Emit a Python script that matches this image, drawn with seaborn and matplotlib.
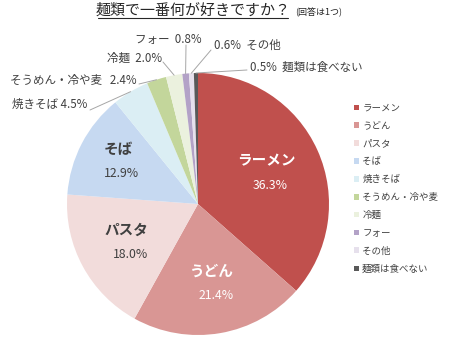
import numpy as np
import matplotlib
matplotlib.use("Agg")
import matplotlib.pyplot as plt
import seaborn as sns

# Survey results: favourite noodle (single answer)
categories = ["ラーメン", "うどん", "パスタ", "そば", "焼きそば", "そうめん・冷や麦",
              "冷麺", "フォー", "その他", "麺類は食べない"]
shares = [36.3, 21.4, 18.0, 12.9, 4.5, 2.4, 2.0, 0.8, 0.6, 0.5]
pct_labels = ["36.3%", "21.4%", "18.0%", "12.9%", "4.5%", "2.4%", "2.0%", "0.8%", "0.6%", "0.5%"]
colors = ["#C0504D", "#D99694", "#F2DCDB", "#C6D9F1", "#DBEEF4",
          "#C3D69B", "#EBF1DE", "#B3A2C7", "#E6E0EC", "#595959"]

sns.set_theme(style="white")
plt.rcParams["font.family"] = ["Noto Sans CJK JP", "DejaVu Sans"]

W, H = 454, 339
fig = plt.figure(figsize=(W / 100, H / 100), dpi=100)
fig.patch.set_facecolor("white")

# pie centre and radius in pixels
cx, cy, R = 198, 204, 131
ax = fig.add_axes([(cx - R) / W, (H - cy - R) / H, 2 * R / W, 2 * R / H])
wedges, _ = ax.pie(shares, colors=colors, startangle=90, counterclock=False,
                   radius=1.0, wedgeprops=dict(linewidth=0))
ax.set_xlim(-1, 1)
ax.set_ylim(-1, 1)
ax.set_aspect("equal")
ax.axis("off")


def px(x, y):
    """figure pixel position -> pie data coordinates"""
    return (x - cx) / R, (cy - y) / R


total = sum(shares)
cum = np.cumsum([0] + shares[:-1])
mid_angles = [np.deg2rad(90 - (c + s / 2) / total * 360) for c, s in zip(cum, shares)]

dark = "#404040"

# labels inside the four large wedges
inner = {0: (0.57, "white"), 1: (0.62, "white"), 2: (0.62, dark), 3: (0.69, dark)}
for i, (r, col) in inner.items():
    a = mid_angles[i]
    x, y = r * np.cos(a), r * np.sin(a)
    ax.text(x, y + 0.04, categories[i], ha="center", va="bottom", color=col,
            fontsize=10.5, fontweight="bold")
    ax.text(x + 0.03, y - 0.04, pct_labels[i], ha="center", va="top", color=col,
            fontsize=8.8)

# outside labels with leader lines: (text anchor px, line start px, ha, text)
outside = {
    4: ((87, 104), (90, 110), "right", f"{categories[4]} {pct_labels[4]}"),
    5: ((137, 80), (139, 84), "right", f"{categories[5]}   {pct_labels[5]}"),
    6: ((162, 58), (163, 62), "right", f"{categories[6]}  {pct_labels[6]}"),
    7: ((202, 39), (186, 45), "right", f"{categories[7]}  {pct_labels[7]}"),
    8: ((214, 45), (211, 50), "left", f"{pct_labels[8]}  {categories[8]}"),
    9: ((250, 67), (247, 70), "left", f"{pct_labels[9]}  {categories[9]}"),
}
for i, (tpos, lpos, ha, txt) in outside.items():
    a = mid_angles[i]
    ex, ey = np.cos(a), np.sin(a)
    sx, sy = px(*lpos)
    ax.plot([sx, ex], [sy, ey], color="#a6a6a6", linewidth=0.7, clip_on=False)
    tx, ty = px(*tpos)
    ax.text(tx, ty, txt, ha=ha, va="center", color=dark, fontsize=8.3, clip_on=False)

# title with underline
fig.text(193 / W, 1 - 11 / H, "麺類で一番何が好きですか？", ha="center", va="center",
         fontsize=10.8, color="#262626")
fig.add_artist(plt.Line2D([98 / W, 288 / W], [1 - 18 / H, 1 - 18 / H],
                          color="#262626", linewidth=0.8))
fig.text(295 / W, 1 - 12 / H, "(回答は1つ)", ha="left", va="center",
         fontsize=6.5, color="#262626")

# legend
leg = fig.legend(wedges, categories, loc="upper left",
                 bbox_to_anchor=(349 / W, 1 - 99 / H), frameon=False,
                 fontsize=6.8, handlelength=0.55, handleheight=0.55,
                 handletextpad=0.35, labelspacing=0.93, borderpad=0)
for t in leg.get_texts():
    t.set_color(dark)

fig.savefig("out.png", dpi=100)
